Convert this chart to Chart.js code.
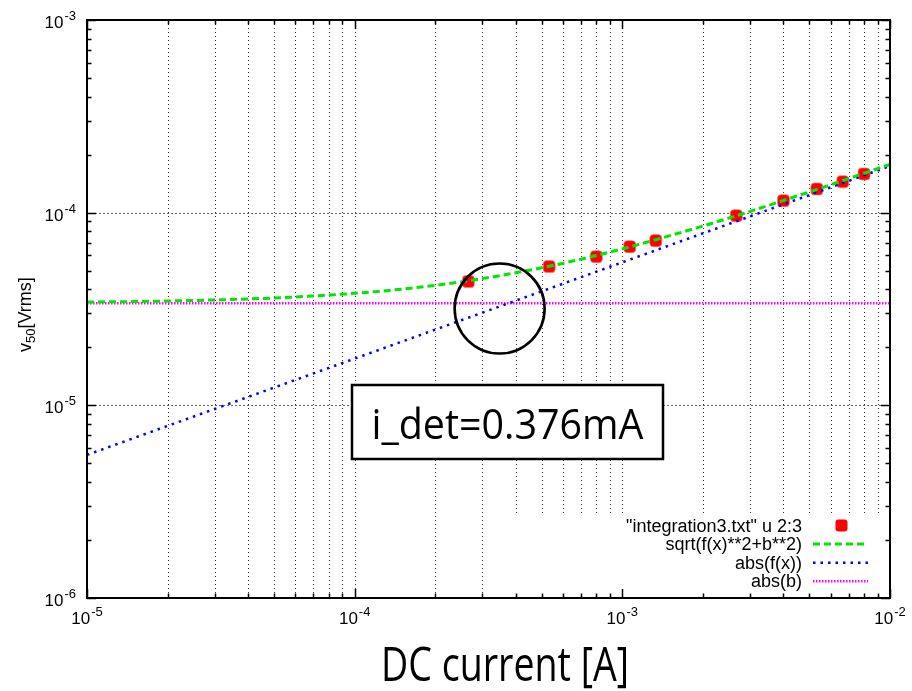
<!DOCTYPE html>
<html>
<head>
<meta charset="utf-8">
<script src="https://cdn.jsdelivr.net/npm/chart.js@4.4.1/dist/chart.umd.min.js"></script>
<style>
  html, body { margin: 0; padding: 0; background: #fff; }
  #wrap { width: 912px; height: 691px; }
</style>
</head>
<body>
<div id="wrap"><canvas id="plot" width="912" height="691"></canvas></div>
<script>
// measured points: DC current [A] vs v50 [Vrms]
const currents = [2.66e-4, 5.33e-4, 8.0e-4, 1.066e-3, 1.333e-3, 2.666e-3, 4.0e-3, 5.33e-3, 6.66e-3, 8.0e-3];
const voltages = [4.39e-5, 5.25e-5, 5.91e-5, 6.66e-5, 7.16e-5, 9.65e-5, 1.154e-4, 1.327e-4, 1.448e-4, 1.588e-4];

// sqrt(f(x)**2+b**2)
const fitX = [1e-5, 2e-5, 5e-5, 1e-4, 1.5e-4, 2e-4, 3e-4, 5e-4, 7e-4, 1e-3, 2e-3, 3e-3, 5e-3, 7e-3, 1e-2];
const fitY = [3.435e-5, 3.479e-5, 3.608e-5, 3.814e-5, 4.010e-5, 4.196e-5, 4.546e-5, 5.175e-5, 5.736e-5, 6.487e-5, 8.525e-5, 1.016e-4, 1.282e-4, 1.502e-4, 1.782e-4];

// abs(f(x)) is straight on log-log
const fX = [1e-5, 1e-2];
const fY = [5.53e-6, 1.746e-4];

// abs(b)
const bX = [1e-5, 1e-2];
const bY = [3.39e-5, 3.39e-5];

const xDecades = [1e-5, 1e-4, 1e-3, 1e-2];
const xExponents = ['-5', '-4', '-3', '-2'];
const yDecades = [1e-6, 1e-5, 1e-4, 1e-3];
const yExponents = ['-6', '-5', '-4', '-3'];
const minorSteps = [2, 3, 4, 5, 6, 7, 8, 9];

const seriesNames = ['"integration3.txt" u 2:3', 'sqrt(f(x)**2+b**2)', 'abs(f(x))', 'abs(b)'];
const detLabel = 'i_det=0.376mA';
const detMark = [3.48e-4, 3.18e-5];   // centre of the circle

const FONT = '"Liberation Sans", Arial, sans-serif';
const BIG = '"Open Sans", "Noto Sans", sans-serif';

function pts(xs, ys) { return xs.map((x, i) => ({ x, y: ys[i] })); }

function minors(decades) {
  const out = [];
  decades.slice(0, -1).forEach(d => minorSteps.forEach(m => out.push(d * m)));
  return out;
}

function crisp(v) { return Math.round(v) + 0.5; }

function power(ctx, exp, x, y, align) {
  ctx.font = '17px ' + FONT;
  const wBase = ctx.measureText('10').width;
  ctx.font = '13px ' + FONT;
  const wExp = ctx.measureText(exp).width;
  const left = align === 'right' ? x - wBase - wExp - 1 : x - (wBase + wExp + 1) / 2;
  ctx.textAlign = 'left';
  ctx.textBaseline = 'alphabetic';
  ctx.font = '17px ' + FONT;
  ctx.fillText('10', left, y);
  ctx.font = '13px ' + FONT;
  ctx.fillText(exp, left + wBase + 1, y - 8);
}

function fitted(ctx, text, font, cx, baseline, width) {
  ctx.font = font;
  const w = ctx.measureText(text).width;
  ctx.save();
  ctx.translate(cx, baseline);
  ctx.scale(width / w, 1);
  ctx.textAlign = 'center';
  ctx.textBaseline = 'alphabetic';
  ctx.fillText(text, 0, 0);
  ctx.restore();
}

const gnuplotLook = {
  id: 'gnuplotLook',
  beforeDatasetsDraw(chart) {
    const { ctx, chartArea: a, scales: { x, y } } = chart;
    ctx.save();
    ctx.lineWidth = 1;
    ctx.strokeStyle = 'rgba(0,0,0,0.8)';
    ctx.setLineDash([1, 3]);
    xDecades.concat(minors(xDecades)).forEach(v => {
      const px = crisp(x.getPixelForValue(v));
      if (px <= a.left + 1 || px >= a.right - 1) return;
      ctx.beginPath(); ctx.moveTo(px, a.top); ctx.lineTo(px, a.bottom); ctx.stroke();
    });
    ctx.strokeStyle = 'rgba(0,0,0,0.6)';
    ctx.setLineDash([2, 2]);
    yDecades.forEach(v => {
      const py = crisp(y.getPixelForValue(v));
      if (py <= a.top + 1 || py >= a.bottom - 1) return;
      ctx.beginPath(); ctx.moveTo(a.left, py); ctx.lineTo(a.right, py); ctx.stroke();
    });
    ctx.restore();
  },
  afterDatasetsDraw(chart) {
    const { ctx, chartArea: a, scales: { x, y } } = chart;
    const sets = chart.data.datasets;
    ctx.save();

    // key, opaque
    ctx.fillStyle = '#fff';
    ctx.fillRect(505, 515, a.right - 505, a.bottom - 515);
    sets.forEach((ds, i) => {
      const ry = 525 + i * 18.6;
      ctx.fillStyle = '#000';
      ctx.font = '18px ' + FONT;
      ctx.textAlign = 'right';
      ctx.textBaseline = 'alphabetic';
      ctx.fillText(ds.label, 802, ry + 6.5);
      if (ds.showLine === false) {
        ctx.fillStyle = ds.backgroundColor;
        ctx.beginPath();
        ctx.roundRect(835.5, ry - 5.5, 12, 12, 3);
        ctx.fill();
      } else {
        ctx.strokeStyle = ds.borderColor;
        ctx.lineWidth = ds.borderWidth;
        ctx.setLineDash(ds.borderDash);
        ctx.beginPath(); ctx.moveTo(813, ry + 0.5); ctx.lineTo(868, ry + 0.5); ctx.stroke();
        ctx.setLineDash([]);
      }
    });

    // circle around the crossing
    ctx.strokeStyle = '#000';
    ctx.lineWidth = 2.6;
    ctx.beginPath();
    ctx.arc(x.getPixelForValue(detMark[0]), y.getPixelForValue(detMark[1]), 45, 0, Math.PI * 2);
    ctx.stroke();

    // label box
    ctx.fillStyle = '#fff';
    ctx.fillRect(352, 385, 311, 74);
    ctx.lineWidth = 2.5;
    ctx.strokeRect(352, 385, 311, 74);
    ctx.fillStyle = '#000';
    fitted(ctx, detLabel, '42px ' + BIG, 507.5, 439, 272);

    // frame
    ctx.lineWidth = 2;
    ctx.strokeStyle = '#000';
    ctx.strokeRect(a.left, a.top, a.right - a.left, a.bottom - a.top);

    // tick marks on all four sides
    ctx.lineWidth = 1.5;
    const tick = (v, len, axis) => {
      if (axis === 'x') {
        const px = crisp(x.getPixelForValue(v));
        ctx.beginPath();
        ctx.moveTo(px, a.bottom); ctx.lineTo(px, a.bottom - len);
        ctx.moveTo(px, a.top); ctx.lineTo(px, a.top + len);
        ctx.stroke();
      } else {
        const py = crisp(y.getPixelForValue(v));
        ctx.beginPath();
        ctx.moveTo(a.left, py); ctx.lineTo(a.left + len, py);
        ctx.moveTo(a.right, py); ctx.lineTo(a.right - len, py);
        ctx.stroke();
      }
    };
    xDecades.forEach(v => tick(v, 9, 'x'));
    minors(xDecades).forEach(v => tick(v, 4.5, 'x'));
    yDecades.forEach(v => tick(v, 9, 'y'));
    minors(yDecades).forEach(v => tick(v, 4.5, 'y'));

    // tick labels
    ctx.fillStyle = '#000';
    xDecades.forEach((v, i) => power(ctx, xExponents[i], x.getPixelForValue(v), 624, 'center'));
    yDecades.forEach((v, i) => power(ctx, yExponents[i], 76, y.getPixelForValue(v) + 8, 'right'));

    // axis titles
    fitted(ctx, 'DC current [A]', '48px ' + BIG, 505, 681, 248);

    ctx.save();
    ctx.translate(31, 352);
    ctx.rotate(-Math.PI / 2);
    ctx.textAlign = 'left';
    ctx.font = '18px ' + FONT;
    ctx.fillText('v', 0, 0);
    const wv = ctx.measureText('v').width;
    ctx.font = '13px ' + FONT;
    ctx.fillText('50', wv, 4);
    const w50 = ctx.measureText('50').width;
    ctx.font = '18px ' + FONT;
    ctx.fillText('[Vrms]', wv + w50, 0);
    ctx.restore();

    ctx.restore();
  }
};

new Chart(document.getElementById('plot'), {
  type: 'scatter',
  data: {
    datasets: [
      {
        label: seriesNames[0],
        data: pts(currents, voltages),
        showLine: false,
        pointStyle: 'rectRounded',
        pointRadius: 7,
        backgroundColor: '#ff0000',
        borderColor: 'rgba(255,120,120,0.7)',
        borderWidth: 1,
        order: 10
      },
      {
        label: seriesNames[1],
        data: pts(fitX, fitY),
        showLine: true,
        cubicInterpolationMode: 'monotone',
        borderColor: '#00e600',
        borderWidth: 3,
        borderDash: [7, 4],
        pointRadius: 0,
        order: 1
      },
      {
        label: seriesNames[2],
        data: pts(fX, fY),
        showLine: true,
        borderColor: '#0000ff',
        borderWidth: 2.5,
        borderDash: [2.5, 5],
        pointRadius: 0,
        order: 2
      },
      {
        label: seriesNames[3],
        data: pts(bX, bY),
        showLine: true,
        borderColor: '#ff00ff',
        borderWidth: 2.5,
        borderDash: [1.5, 1.5],
        pointRadius: 0,
        order: 3
      }
    ]
  },
  options: {
    responsive: false,
    animation: false,
    events: [],
    layout: { padding: { top: 20, right: 22, left: 0, bottom: 0 } },
    plugins: { legend: { display: false }, tooltip: { enabled: false } },
    scales: {
      x: {
        type: 'logarithmic', min: 1e-5, max: 1e-2,
        grid: { display: false }, border: { display: false }, ticks: { display: false },
        afterFit: s => { s.height = 93; }
      },
      y: {
        type: 'logarithmic', min: 1e-6, max: 1e-3,
        grid: { display: false }, border: { display: false }, ticks: { display: false },
        afterFit: s => { s.width = 87; }
      }
    }
  },
  plugins: [gnuplotLook]
});
</script>
</body>
</html>
